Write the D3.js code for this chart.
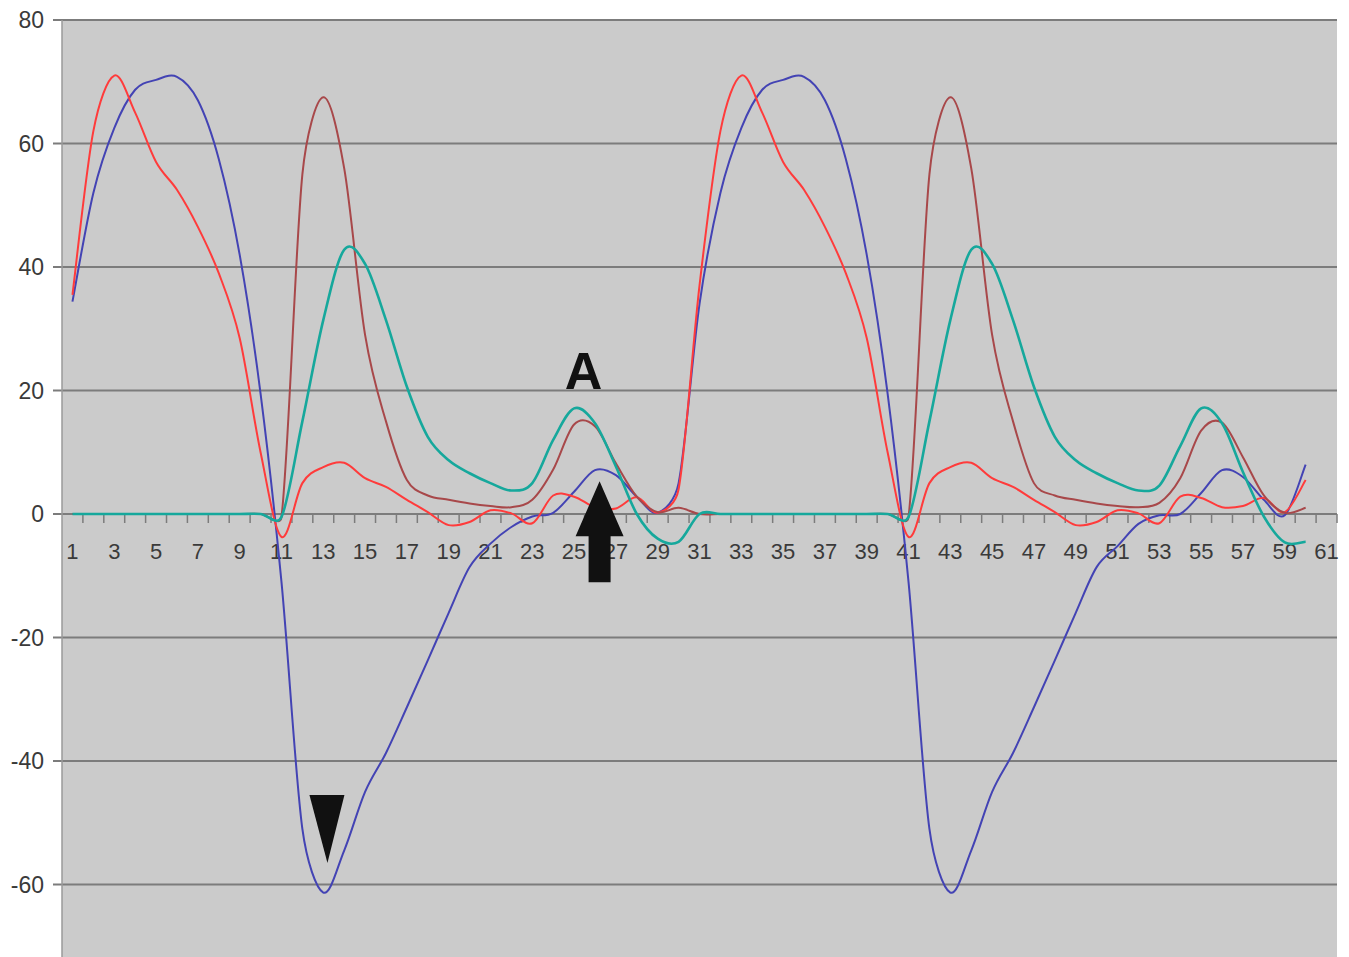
<!DOCTYPE html>
<html>
<head>
<meta charset="utf-8">
<script src="https://cdn.jsdelivr.net/npm/d3@7"></script>
<style>
  html, body { margin: 0; padding: 0; background: #fff; overflow: hidden; }
  svg { display: block; }
</style>
</head>
<body>
<div id="chart"></div>
<script>
// categories 1..61 on the x axis, data for 1..60
const categories = d3.range(1, 62);
const xTickLabels = categories.filter(c => c % 2 === 1);
const yTicks = [-60, -40, -20, 0, 20, 40, 60, 80];

const redValues = [
  35.5, 62, 71, 65, 57, 52.5, 46.5, 39, 28.5, 10,
  -3.7, 5, 7.6, 8.3, 5.8, 4.4, 2.3, 0.3, -1.8, -1.3,
  0.6, 0.1, -1.5, 3, 2.8, 1.1, 0.9, 2.7, 0.2, 4,
  37, 62, 71, 65, 57, 52.5, 46.5, 39, 28.5, 10,
  -3.7, 5, 7.6, 8.3, 5.8, 4.4, 2.3, 0.3, -1.8, -1.3,
  0.6, 0.1, -1.5, 2.8, 2.6, 1.1, 1.3, 2.6, 0.3, 5.5
];
const brownValues = [
  0, 0, 0, 0, 0, 0, 0, 0, 0, 0,
  -0.5, 55, 67.5, 56, 29, 15, 5.5, 3, 2.3, 1.7,
  1.3, 1.1, 2.3, 7.2, 14.5, 14.2, 8.2, 2.8, 0.3, 1,
  0, 0, 0, 0, 0, 0, 0, 0, 0, 0,
  -0.5, 55, 67.5, 56, 29, 15, 5, 3, 2.3, 1.7,
  1.3, 1.1, 1.8, 5.8, 13.5, 14.8, 9.2, 3, 0.2, 1
];
const tealValues = [
  0, 0, 0, 0, 0, 0, 0, 0, 0, 0,
  -0.5, 15, 31.4, 42.8, 40.5, 31.4, 20.6, 12.5, 8.7, 6.6,
  5, 3.8, 5, 12, 17.1, 14.7, 7.7, 0, -4, -4.5,
  0, 0, 0, 0, 0, 0, 0, 0, 0, 0,
  -0.5, 15, 31.4, 42.8, 40.5, 31.4, 20.6, 12.5, 8.7, 6.6,
  5, 3.8, 4.6, 11, 17.1, 14.7, 6.8, -0.4, -4.6, -4.5
];
const blueValues = [
  34.4, 52, 62.5, 68.7, 70.3, 70.8, 67, 57.5, 42, 19.5,
  -11, -51, -61.3, -54.5, -45, -38.7, -31.3, -23.7, -16, -8.6,
  -4.8, -2.1, -0.4, 0.2, 3.6, 7.1, 6.3, 2.8, 0.2, 5,
  34, 52, 62.5, 68.7, 70.3, 70.8, 67, 57.5, 42, 19.5,
  -11, -51, -61.3, -54.5, -45, -38.7, -31.3, -23.7, -16, -8.6,
  -5.2, -1.6, -0.2, 0, 3.4, 7.1, 6, 2.3, -0.2, 8
];

const series = [
  {name: 'blue', values: blueValues, color: '#4343b4', width: 2},
  {name: 'red', values: redValues, color: '#ff3b3b', width: 2},
  {name: 'brown', values: brownValues, color: '#a8484a', width: 2},
  {name: 'teal', values: tealValues, color: '#16a89c', width: 2.6}
];

// annotation anchors in data units [category, value]
const labelA = [25.45, 20.2];
const arrowTip = [26.22, 5.3];
const triangleTip = [13.2, -56.5];

const width = 1349, height = 957;
const plot = {left: 62, right: 1337, top: 20, bottom: 1008};

const svg = d3.select('#chart').append('svg')
  .attr('width', width)
  .attr('height', height)
  .style('font-family', 'Arial, "Liberation Sans", sans-serif');

svg.append('rect')
  .attr('width', width)
  .attr('height', height)
  .attr('fill', '#fff');

const x = d3.scaleBand()
  .domain(categories)
  .range([plot.left, plot.right])
  .padding(0);
const cx = c => plot.left + (c - 1 + 0.5) * x.bandwidth();

const y = d3.scaleLinear()
  .domain([-80, 80])
  .range([plot.bottom, plot.top]);

svg.append('rect')
  .attr('x', plot.left)
  .attr('y', plot.top)
  .attr('width', plot.right - plot.left)
  .attr('height', plot.bottom - plot.top)
  .attr('fill', '#cbcbcb');

// gridlines + y ticks
const grid = svg.append('g').classed('grid', true);
grid.selectAll('line')
  .data(yTicks)
  .enter()
  .append('line')
  .attr('x1', plot.left - 9)
  .attr('x2', plot.right)
  .attr('y1', d => y(d))
  .attr('y2', d => y(d))
  .style('stroke', '#7c7c7c')
  .style('stroke-width', 2);

svg.append('line')
  .attr('x1', plot.left)
  .attr('x2', plot.left)
  .attr('y1', plot.top)
  .attr('y2', plot.bottom)
  .style('stroke', '#9a9a9a')
  .style('stroke-width', 1.5);

svg.append('g').classed('y-labels', true)
  .selectAll('text')
  .data(yTicks)
  .enter()
  .append('text')
  .attr('x', 44)
  .attr('y', d => y(d))
  .attr('dy', '0.36em')
  .attr('text-anchor', 'end')
  .style('font-size', '23px')
  .style('fill', '#3a3a3a')
  .text(d => d);

// x axis ticks at category boundaries
const y0 = y(0);
svg.append('g').classed('x-ticks', true)
  .selectAll('line')
  .data(categories)
  .enter()
  .append('line')
  .attr('x1', d => x(d) + x.bandwidth())
  .attr('x2', d => x(d) + x.bandwidth())
  .attr('y1', y0)
  .attr('y2', y0 + 9)
  .style('stroke', '#7c7c7c')
  .style('stroke-width', 1.5);

svg.append('g').classed('x-labels', true)
  .selectAll('text')
  .data(xTickLabels)
  .enter()
  .append('text')
  .attr('x', d => cx(d))
  .attr('y', y0 + 45)
  .attr('text-anchor', 'middle')
  .style('font-size', '22px')
  .style('fill', '#3a3a3a')
  .text(d => d);

// spreadsheet-style smoothing: 1/6 tangent handles, clamped to half the adjacent segment
function smoothPath(values) {
  const pts = values.map((v, i) => [cx(i + 1), y(v)]);
  const n = pts.length;
  const dist = (a, b) => Math.hypot(b[0] - a[0], b[1] - a[1]);
  const handles = pts.map((p, i) => {
    const prev = pts[Math.max(i - 1, 0)];
    const next = pts[Math.min(i + 1, n - 1)];
    const tx = next[0] - prev[0], ty = next[1] - prev[1];
    const len = Math.hypot(tx, ty) || 1;
    const h = len / 6;
    const hin = i > 0 ? Math.min(h, 0.5 * dist(prev, p)) : 0;
    const hout = i < n - 1 ? Math.min(h, 0.5 * dist(p, next)) : 0;
    return {
      in: [p[0] - tx / len * hin, p[1] - ty / len * hin],
      out: [p[0] + tx / len * hout, p[1] + ty / len * hout]
    };
  });
  const path = d3.path();
  path.moveTo(pts[0][0], pts[0][1]);
  for (let i = 0; i < n - 1; i++) {
    const c1 = handles[i].out, c2 = handles[i + 1].in;
    path.bezierCurveTo(c1[0], c1[1], c2[0], c2[1], pts[i + 1][0], pts[i + 1][1]);
  }
  return path.toString();
}

svg.append('g').classed('series', true)
  .selectAll('path')
  .data(series)
  .enter()
  .append('path')
  .attr('d', d => smoothPath(d.values))
  .style('fill', 'none')
  .style('stroke', d => d.color)
  .style('stroke-width', d => d.width)
  .style('stroke-linejoin', 'round');

// annotations
const ann = svg.append('g').classed('annotations', true);
ann.append('text')
  .attr('x', cx(labelA[0]))
  .attr('y', y(labelA[1]))
  .attr('text-anchor', 'middle')
  .style('font-size', '52px')
  .style('font-weight', 'bold')
  .style('fill', '#111')
  .text('A');

const ax = cx(arrowTip[0]), ay = y(arrowTip[1]);
ann.append('path')
  .attr('d', `M${ax},${ay} L${ax + 24},${ay + 55} L${ax + 11},${ay + 55} L${ax + 11},${ay + 101}` +
             ` L${ax - 11},${ay + 101} L${ax - 11},${ay + 55} L${ax - 24},${ay + 55} Z`)
  .style('fill', '#111');

const tx = cx(triangleTip[0]), ty = y(triangleTip[1]);
ann.append('path')
  .attr('d', `M${tx},${ty} L${tx - 18},${ty - 68} L${tx + 17},${ty - 68} Z`)
  .style('fill', '#111');
</script>
</body>
</html>
